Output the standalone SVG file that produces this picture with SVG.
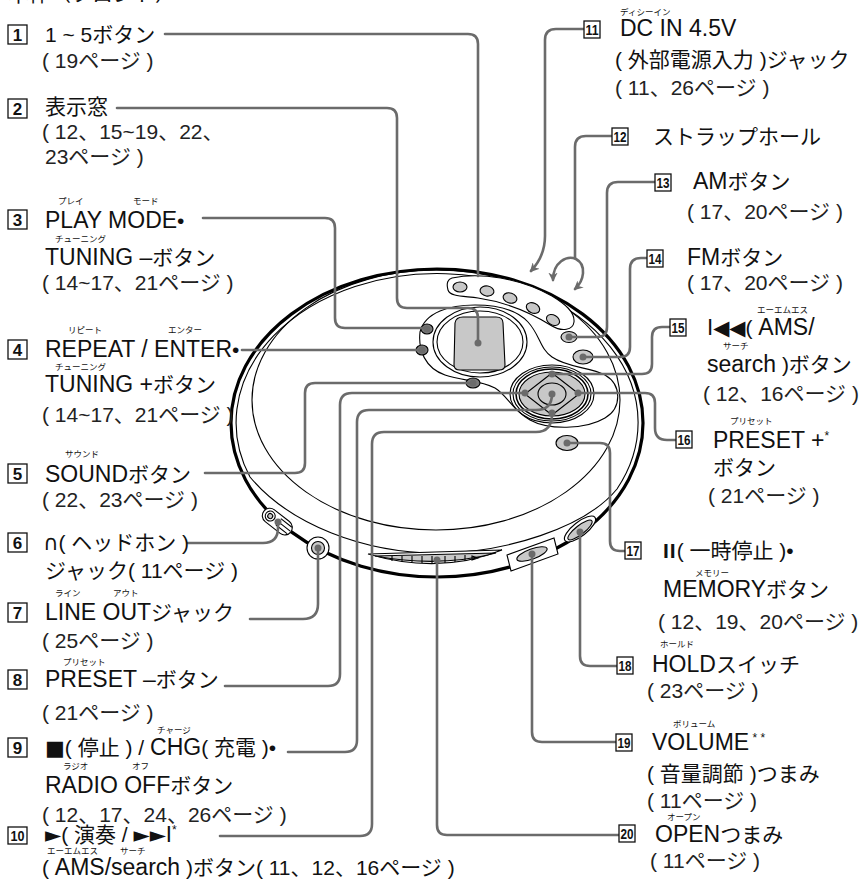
<svg xmlns="http://www.w3.org/2000/svg" width="862" height="889" viewBox="0 0 862 889">
<defs>
<marker id="ah" viewBox="0 0 10 10" refX="8" refY="5" markerWidth="3.6" markerHeight="3.6" orient="auto-start-reverse"><path d="M0,0 L10,5 L0,10 L3,5 Z" fill="#6b6b6b"/></marker>
</defs>
<style>
.c{fill:none;stroke:#6b6b6b;stroke-width:2.6;stroke-linecap:round;stroke-linejoin:round}
.dot{fill:#6b6b6b}
.k{fill:none;stroke:#000;stroke-width:1.1}
.kw{fill:#fff;stroke:#000;stroke-width:1.1}
.g{fill:#c8c8c8;stroke:#000;stroke-width:1.1}
.dk{fill:#7a7a7a;stroke:#000;stroke-width:1.1}
.t{font-family:"Liberation Sans","Noto Sans CJK JP",sans-serif;font-size:21px;fill:#111}
.L{font-size:23px}
.p{font-family:"Liberation Sans","Noto Sans CJK JP",sans-serif;font-size:21px;fill:#222}
.r{font-family:"Noto Sans CJK JP",sans-serif;font-size:8.5px;fill:#111}
.bx{fill:#fff;stroke:#111;stroke-width:1.3}
.n{font-family:"Liberation Sans",sans-serif;font-size:17px;font-weight:bold;text-anchor:middle;fill:#111}
.n2{font-family:"Liberation Sans",sans-serif;font-size:15px;font-weight:bold;fill:#111}
.sym{font-family:"DejaVu Sans",sans-serif}
.bb{font-family:"Liberation Sans",sans-serif;font-weight:bold;letter-spacing:1px}
.sup{font-size:12px}
</style>
<rect width="862" height="889" fill="#fff"/>
<text id="heading" class="t" x="8" y="1">本体（フロント）</text>

<g id="player">
<ellipse cx="437" cy="423" rx="206" ry="154" fill="#fff" stroke="#000" stroke-width="3.2"/>
<path class="kw" d="M250,477 A201,149 0 1 1 617,489 C585,528 505,553 437,553 C365,553 290,525 250,477 Z"/>
<ellipse class="k" cx="436" cy="400" rx="184" ry="130"/>
<path class="kw" d="M420,332 C418,350 425,368 445,375 C462,381 480,380 495,388 C507,395 512,410 530,420 C548,430 585,430 605,418 C622,408 622,385 605,375 C590,367 568,368 552,357 C540,349 540,335 528,322 C515,308 495,305 475,305 C450,305 425,312 420,332 Z"/>
<ellipse class="k" cx="480" cy="342" rx="47" ry="35"/>
<ellipse class="k" cx="480" cy="342" rx="43" ry="31"/>
<path class="g" d="M455,323 Q456,317 463,317 H496 Q503,317 503,323 L505,365 Q505,370 499,370 H460 Q454,370 454,365 Z"/>
<path class="kw" d="M452,278 C480,272 520,278 552,296 C565,304 575,312 574,322 C573,330 562,332 552,326 C530,312 505,302 478,298 C465,296 450,297 448,290 C446,283 448,279 452,278 Z"/>
<ellipse class="g" cx="460" cy="287" rx="7" ry="5"/>
<ellipse class="g" cx="487" cy="291" rx="7" ry="5" transform="rotate(10 487 291)"/>
<ellipse class="g" cx="510" cy="298" rx="7" ry="5" transform="rotate(18 510 298)"/>
<ellipse class="g" cx="533" cy="308" rx="7" ry="5" transform="rotate(25 533 308)"/>
<ellipse class="g" cx="553" cy="320" rx="7" ry="5" transform="rotate(30 553 320)"/>
<ellipse class="dk" cx="427" cy="329" rx="6" ry="5"/>
<ellipse class="dk" cx="422" cy="350" rx="6" ry="5"/>
<ellipse class="dk" cx="473" cy="383" rx="7" ry="5"/>
<ellipse class="g" cx="569" cy="337" rx="8" ry="5.5"/>
<ellipse class="g" cx="583" cy="357" rx="10" ry="7"/>
<ellipse class="g" cx="567" cy="443" rx="11" ry="7.5"/>
<ellipse class="k" cx="552" cy="394" rx="42" ry="29"/>
<ellipse class="k" cx="552" cy="394" rx="39" ry="27"/>
<ellipse cx="552" cy="394" rx="36" ry="25" fill="none" stroke="#000" stroke-width="1.6"/>
<ellipse class="g" cx="552" cy="394" rx="33" ry="22"/>
<path class="k" d="M552,373 L579,394 L552,415 L525,394 Z"/>
<ellipse class="g" cx="552" cy="394" rx="14" ry="11"/>
<g transform="rotate(38 277 522)">
<rect class="kw" x="260" y="514" width="34" height="15" rx="7.5"/>
<circle class="kw" cx="268" cy="521.5" r="5"/>
<circle class="g" cx="268" cy="521.5" r="2.5"/>
<path class="k" d="M278,517 H292 M278,521 H293 M278,525 H292"/>
</g>
<circle class="kw" cx="318" cy="548" r="11"/>
<circle class="g" cx="318" cy="548" r="6.5"/>
<path class="kw" d="M368,554 L502,550 Q440,575 368,554 Z"/>
<path class="g" d="M375,556 L496,553 Q440,568 375,556 Z"/>
<path class="k" d="M392,556 V561 M402,556 V562 M412,556 V562 M422,556 V563 M432,556 V563 M445,556 V563 M455,556 V562 M465,555 V561 M472,556 L478,558 L472,560 Z"/>
<path class="kw" d="M507,555 L554,538 L558,554 L511,571 Z"/>
<ellipse class="g" cx="532" cy="554" rx="16" ry="5" transform="rotate(-20 532 554)"/>
<ellipse class="kw" cx="580" cy="529" rx="19" ry="7" transform="rotate(-38 580 529)"/>
<ellipse class="g" cx="580" cy="530" rx="15" ry="4.5" transform="rotate(-38 580 530)"/>
</g>

<g id="connectors">
<path class="c" d="M165,34 H468 Q478,34 478,44 V276"/>
<path class="c" d="M117,108 H387 Q397,108 397,118 V298 Q397,308 407,308 H468 Q478,308 478,318 V343"/>
<path class="c" d="M203,218 H325 Q335,218 335,228 V318 Q335,328 345,328 H427"/>
<path class="c" d="M242,350 H422"/>
<path class="c" d="M205,473 H295 Q305,473 305,463 V393 Q305,383 315,383 H473"/>
<path class="c" d="M188,543 H263 Q278,543 278,528 V522"/>
<path class="c" d="M250,619 H303 Q318,619 318,604 V548"/>
<path class="c" d="M225,686 H328 Q340,686 340,674 V405 Q340,393 352,393 H525"/>
<path class="c" d="M288,752 H345 Q357,752 357,740 V422 Q357,410 369,410 H536 Q552,410 552,394"/>
<path class="c" d="M220,836 H360 Q372,836 372,824 V444 Q372,432 384,432 H536 Q552,432 552,414"/>
<path class="c" d="M584,29 H556 Q545,29 545,40 V236 Q545,256 531,271" marker-end="url(#ah)"/>
<path class="c" d="M612,136 H586 Q575,136 575,147 V258"/>
<path class="c" d="M553,280 C553,262 567,255 576,259 C587,265 584,281 575,289" marker-start="url(#ah)" marker-end="url(#ah)"/>
<path class="c" d="M655,182 H618 Q607,182 607,193 V327 Q607,337 597,337 H569"/>
<path class="c" d="M647,258 H641 Q630,258 630,269 V347 Q630,357 620,357 H583"/>
<path class="c" d="M670,327 H662 Q652,327 652,337 V364 Q652,374 642,374 H552"/>
<path class="c" d="M676,440 H667 Q655,440 655,428 V403 Q655,393 645,393 H578"/>
<path class="c" d="M567,443 H600 Q610,443 610,453 V541 Q610,551 620,551 H625"/>
<path class="c" d="M580,532 V656 Q580,666 590,666 H617"/>
<path class="c" d="M532,554 V732 Q532,742 542,742 H616"/>
<path class="c" d="M437,560 V825 Q437,835 447,835 H619"/>
<g class="dot">
<circle cx="478" cy="343" r="3.5"/><circle cx="427" cy="329" r="3.5"/><circle cx="422" cy="350" r="3.5"/><circle cx="473" cy="383" r="3.5"/>
<circle cx="278" cy="522" r="3.5"/><circle cx="318" cy="548" r="3.5"/><circle cx="525" cy="393" r="3.5"/><circle cx="552" cy="394" r="3.5"/>
<circle cx="552" cy="413" r="3.5"/><circle cx="552" cy="374" r="3.5"/><circle cx="578" cy="393" r="3.5"/><circle cx="569" cy="337" r="3.5"/>
<circle cx="583" cy="357" r="3.5"/><circle cx="567" cy="443" r="3.5"/><circle cx="580" cy="532" r="3.5"/><circle cx="532" cy="554" r="3.5"/><circle cx="437" cy="560" r="3.5"/>
</g>
</g>

<g id="n1"><rect class="bx" x="8" y="25" width="19" height="19"/><text class="n" x="17.5" y="41">1</text>
<text class="t" x="45" y="42">1 ~ 5ボタン</text><text class="p" x="42" y="68">( 19ページ )</text></g>
<g id="n2"><rect class="bx" x="8" y="99" width="19" height="19"/><text class="n" x="17.5" y="115">2</text>
<text class="t" x="45" y="114">表示窓</text><text class="p" x="42" y="139">( 12、15~19、22、</text><text class="p" x="45" y="164">23ページ )</text></g>
<g id="n3"><text class="r" x="58" y="204">プレイ</text><text class="r" x="133" y="204">モード</text>
<rect class="bx" x="8" y="210" width="19" height="19"/><text class="n" x="17.5" y="226">3</text>
<text class="t" x="45" y="228"><tspan class="L">PLAY MODE</tspan>•</text>
<text class="r" x="55" y="242">チューニング</text>
<text class="t" x="45" y="265"><tspan class="L">TUNING –</tspan>ボタン</text>
<text class="p" x="42" y="290">( 14~17、21ページ )</text></g>
<g id="n4"><text class="r" x="68" y="333">リピート</text><text class="r" x="168" y="333">エンター</text>
<rect class="bx" x="8" y="340" width="19" height="19"/><text class="n" x="17.5" y="356">4</text>
<text class="t" x="45" y="357"><tspan class="L">REPEAT / ENTER</tspan>•</text>
<text class="r" x="55" y="370">チューニング</text>
<text class="t" x="45" y="392"><tspan class="L">TUNING +</tspan>ボタン</text>
<text class="p" x="42" y="422">( 14~17、21ページ )</text></g>
<g id="n5"><text class="r" x="65" y="457">サウンド</text>
<rect class="bx" x="8" y="464" width="19" height="19"/><text class="n" x="17.5" y="480">5</text>
<text class="t" x="45" y="482"><tspan class="L">SOUND</tspan>ボタン</text>
<text class="p" x="42" y="507">( 22、23ページ )</text></g>
<g id="n6"><rect class="bx" x="8" y="533" width="19" height="19"/><text class="n" x="17.5" y="549">6</text>
<text class="t" x="43" y="550"><tspan class="sym">∩</tspan>( ヘッドホン )</text>
<text class="t" x="45" y="578">ジャック( 11ページ )</text></g>
<g id="n7"><text class="r" x="55" y="596">ライン</text><text class="r" x="113" y="596">アウト</text>
<rect class="bx" x="8" y="603" width="19" height="19"/><text class="n" x="17.5" y="619">7</text>
<text class="t" x="45" y="620"><tspan class="L">LINE OUT</tspan>ジャック</text>
<text class="p" x="42" y="648">( 25ページ )</text></g>
<g id="n8"><text class="r" x="63" y="665">プリセット</text>
<rect class="bx" x="8" y="670" width="19" height="19"/><text class="n" x="17.5" y="686">8</text>
<text class="t" x="45" y="687"><tspan class="L">PRESET –</tspan>ボタン</text>
<text class="p" x="42" y="720">( 21ページ )</text></g>
<g id="n9"><text class="r" x="157" y="733">チャージ</text>
<rect class="bx" x="8" y="738" width="19" height="19"/><text class="n" x="17.5" y="754">9</text>
<text class="t" x="45" y="755"><tspan class="sym">■</tspan>( 停止 ) / <tspan class="L">CHG</tspan>( 充電 )•</text>
<text class="r" x="63" y="769">ラジオ</text><text class="r" x="132" y="769">オフ</text>
<text class="t" x="45" y="793"><tspan class="L">RADIO OFF</tspan>ボタン</text>
<text class="p" x="42" y="822">( 12、17、24、26ページ )</text></g>
<g id="n10"><rect class="bx" x="8" y="827" width="19" height="17"/><text class="n2" x="10.5" y="841" textLength="14" lengthAdjust="spacingAndGlyphs">10</text>
<text class="t" x="45" y="842"><tspan class="sym">►</tspan>( 演奏 / <tspan class="sym">►►I</tspan><tspan class="sup" dy="-8">*</tspan></text>
<text class="r" x="47" y="854">エーエムエス</text><text class="r" x="120" y="854">サーチ</text>
<text class="t" x="42" y="875">( <tspan class="L">AMS/search</tspan> )ボタン( 11、12、16ページ )</text></g>

<g id="n11"><text class="r" x="620" y="15">ディシーイン</text>
<rect class="bx" x="584" y="21" width="16" height="17"/><text class="n2" x="585.5" y="35" textLength="13" lengthAdjust="spacingAndGlyphs">11</text>
<text class="t" x="620" y="36"><tspan class="L">DC IN 4.5V</tspan></text>
<text class="t" x="615" y="67">( 外部電源入力 )ジャック</text>
<text class="p" x="615" y="95">( 11、26ページ )</text></g>
<g id="n12"><rect class="bx" x="612" y="128" width="16" height="17"/><text class="n2" x="613.5" y="142" textLength="13" lengthAdjust="spacingAndGlyphs">12</text>
<text class="t" x="653" y="144">ストラップホール</text></g>
<g id="n13"><rect class="bx" x="655" y="174" width="16" height="17"/><text class="n2" x="656.5" y="188" textLength="13" lengthAdjust="spacingAndGlyphs">13</text>
<text class="t" x="693" y="189"><tspan class="L">AM</tspan>ボタン</text>
<text class="p" x="687" y="219">( 17、20ページ )</text></g>
<g id="n14"><rect class="bx" x="647" y="250" width="16" height="17"/><text class="n2" x="648.5" y="264" textLength="13" lengthAdjust="spacingAndGlyphs">14</text>
<text class="t" x="687" y="265"><tspan class="L">FM</tspan>ボタン</text>
<text class="p" x="687" y="290">( 17、20ページ )</text></g>
<g id="n15"><text class="r" x="757" y="313">エーエムエス</text>
<rect class="bx" x="670" y="319" width="16" height="17"/><text class="n2" x="671.5" y="333" textLength="13" lengthAdjust="spacingAndGlyphs">15</text>
<text class="t" x="707" y="335"><tspan class="sym">I◀◀</tspan>( <tspan class="L">AMS/</tspan></text>
<text class="r" x="723" y="349">サーチ</text>
<text class="t" x="707" y="372"><tspan class="L">search</tspan> )ボタン</text>
<text class="p" x="703" y="401">( 12、16ページ )</text></g>
<g id="n16"><text class="r" x="730" y="424">プリセット</text>
<rect class="bx" x="676" y="431" width="16" height="17"/><text class="n2" x="677.5" y="445" textLength="13" lengthAdjust="spacingAndGlyphs">16</text>
<text class="t" x="713" y="448"><tspan class="L">PRESET +</tspan><tspan class="sup" dy="-8">*</tspan></text>
<text class="t" x="713" y="475">ボタン</text>
<text class="p" x="708" y="503">( 21ページ )</text></g>
<g id="n17"><rect class="bx" x="625" y="542" width="16" height="17"/><text class="n2" x="626.5" y="556" textLength="13" lengthAdjust="spacingAndGlyphs">17</text>
<text class="t" x="663" y="558"><tspan class="bb">II</tspan>( 一時停止 )•</text>
<text class="r" x="695" y="576">メモリー</text>
<text class="t" x="663" y="597"><tspan class="L">MEMORY</tspan>ボタン</text>
<text class="p" x="658" y="629">( 12、19、20ページ )</text></g>
<g id="n18"><text class="r" x="660" y="647">ホールド</text>
<rect class="bx" x="617" y="657" width="16" height="17"/><text class="n2" x="618.5" y="671" textLength="13" lengthAdjust="spacingAndGlyphs">18</text>
<text class="t" x="652" y="672"><tspan class="L">HOLD</tspan>スイッチ</text>
<text class="p" x="647" y="698">( 23ページ )</text></g>
<g id="n19"><text class="r" x="673" y="727">ボリューム</text>
<rect class="bx" x="616" y="734" width="16" height="17"/><text class="n2" x="617.5" y="748" textLength="13" lengthAdjust="spacingAndGlyphs">19</text>
<text class="t" x="652" y="750"><tspan class="L">VOLUME</tspan><tspan class="sup" dy="-8"> * *</tspan></text>
<text class="t" x="647" y="781">( 音量調節 )つまみ</text>
<text class="p" x="647" y="808">( 11ページ )</text></g>
<g id="n20"><text class="r" x="667" y="820">オープン</text>
<rect class="bx" x="619" y="825" width="16" height="17"/><text class="n2" x="620.5" y="839" textLength="13" lengthAdjust="spacingAndGlyphs">20</text>
<text class="t" x="655" y="842"><tspan class="L">OPEN</tspan>つまみ</text>
<text class="p" x="650" y="868">( 11ページ )</text></g>
</svg>
